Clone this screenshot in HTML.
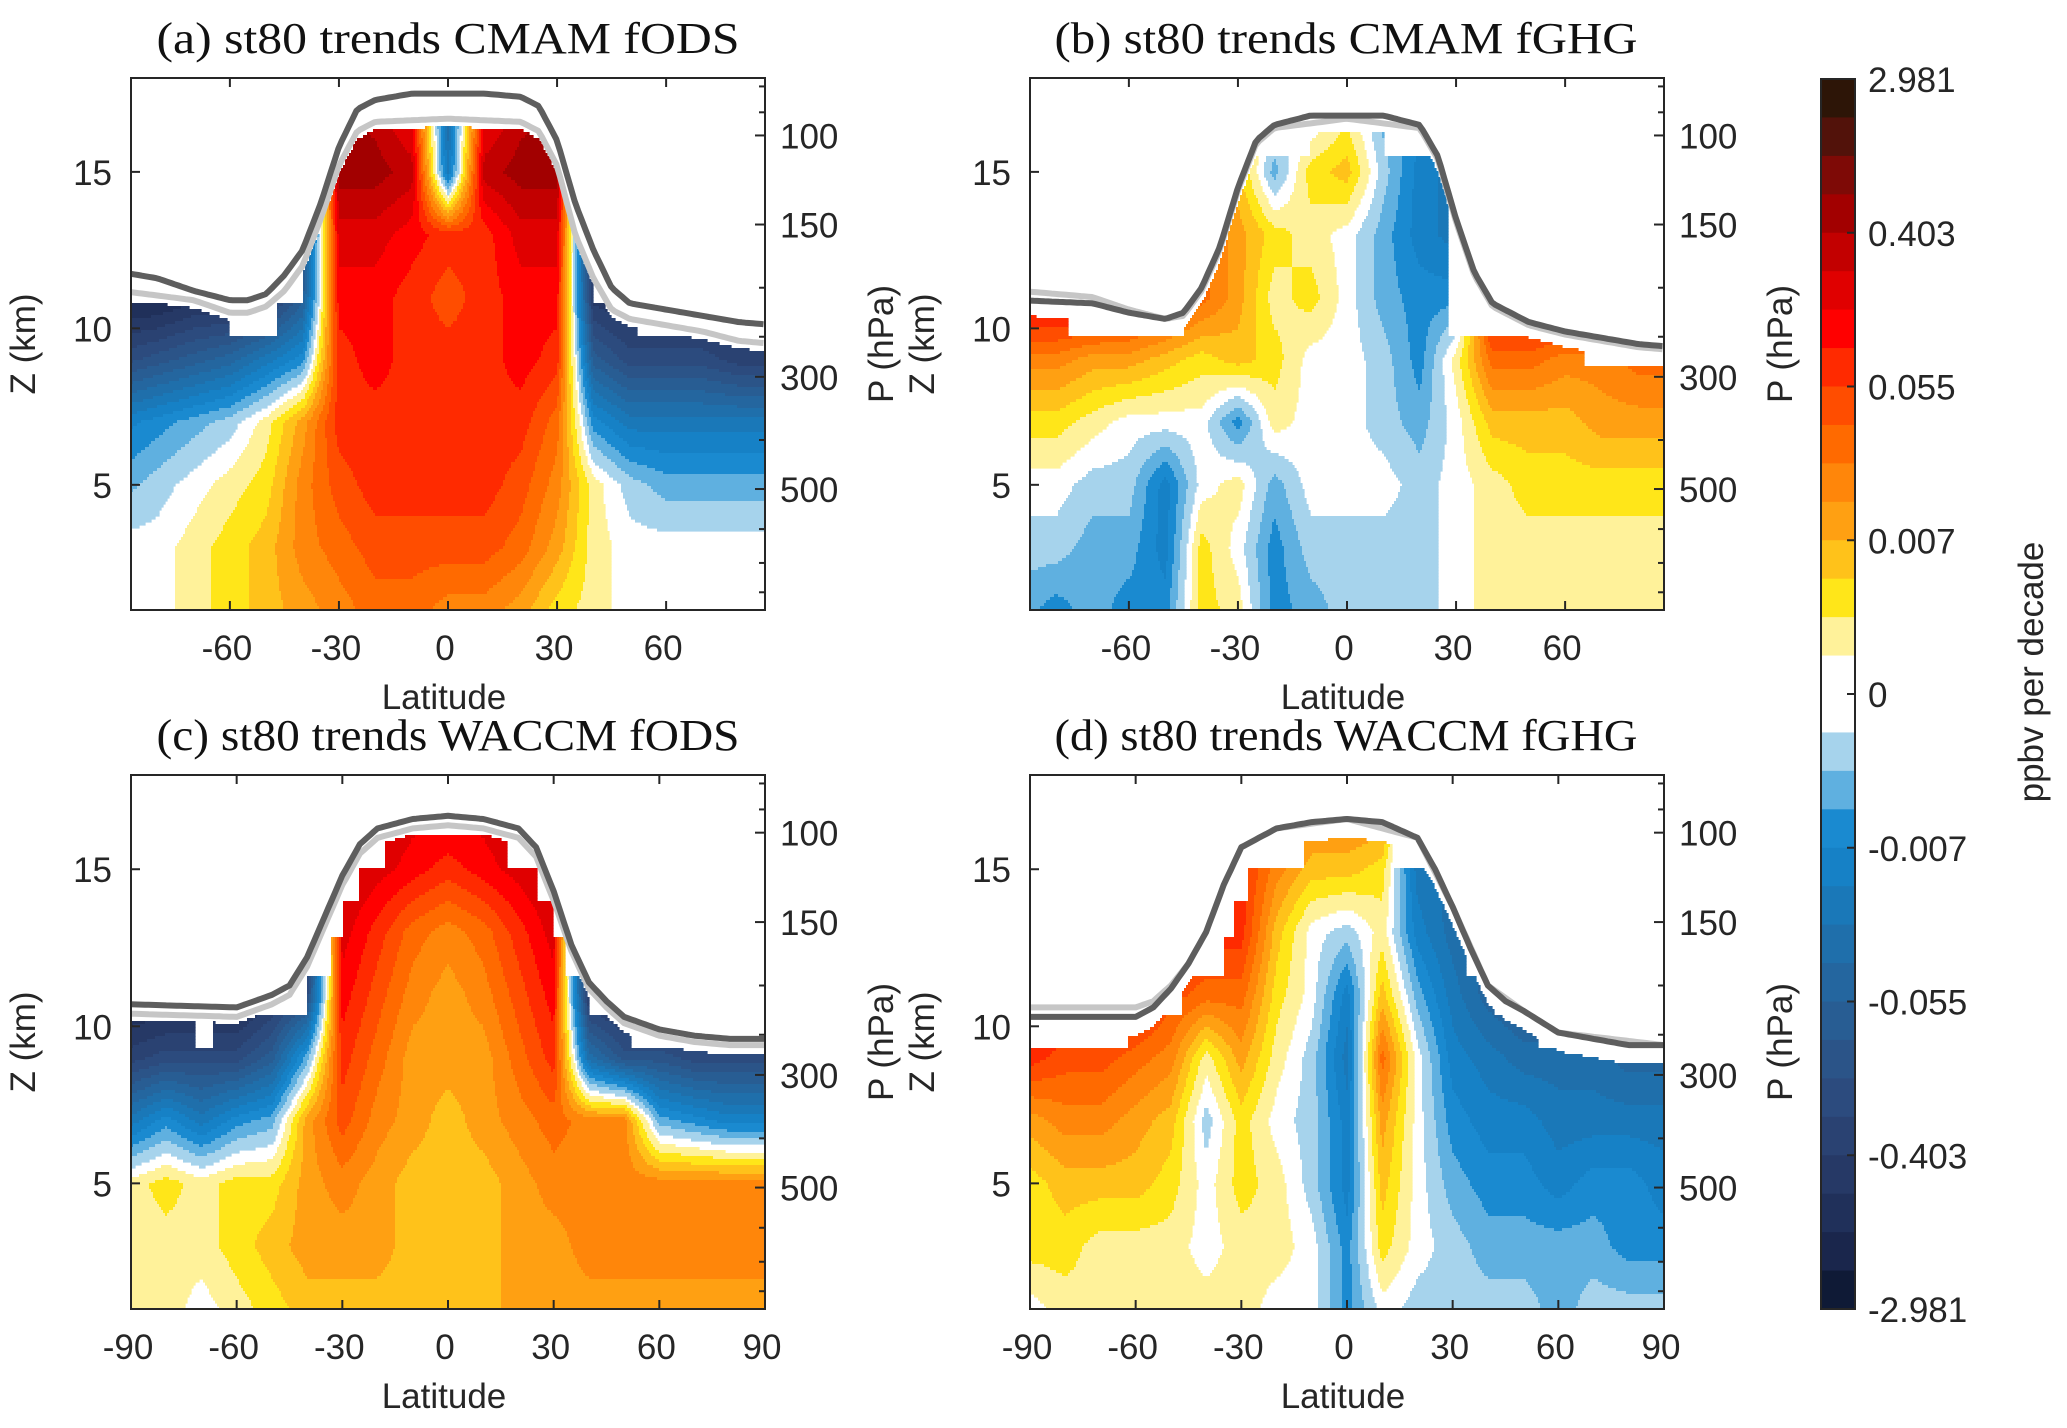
<!DOCTYPE html>
<html><head><meta charset="utf-8"><title>st80 trends</title>
<style>
html,body{margin:0;padding:0;background:#fff;}
svg{display:block;}
.tk{font-family:"Liberation Sans",sans-serif;font-size:35px;fill:#262626;}
.tt{font-family:"Liberation Serif",serif;font-size:44px;fill:#111;}
</style></head>
<body>
<svg id="fig" width="2067" height="1428" viewBox="0 0 2067 1428" xmlns="http://www.w3.org/2000/svg">
<rect x="0" y="0" width="2067" height="1428" fill="#fff"/>
</svg>
<script>
// ---- data ----
const latNodes = [-90,-80,-70,-60,-50,-40,-30,-20,-10,0,10,20,30,40,50,60,70,80,90];
const zNodes = [1,3,5,7,9,11,13,15,17];
const cbarLabels = ["2.981","0.403","0.055","0.007","0","-0.007","-0.055","-0.403","-2.981"];
const bandColorsWarm = ["#fff29a","#ffe619","#ffc21a","#ffa012","#ff860a","#ff6a00","#ff4d00","#ff2a00","#ff0000","#e00000","#c20000","#a20000","#7e0a06","#52120a","#2d1507"];
const bandColorsCool = ["#a6d3ec","#5fb0e0","#1a8ad0","#1681c6","#1a78b8","#1f6fab","#24669f","#285d93","#2b5488","#2c4b7e","#2a4272","#263966","#20305a","#1a264c","#0f1a36"];

const fieldA = [
 [0,0,1,2,3,4,5,6,6,5,5,4,2,1,0,0,0,0,0],
 [0,0,1,2,3,5,6,7,7,7,7,6,4,1,0,0,0,0,0],
 [-2,-1,0,1,2,5,7,8,8,8,8,7,5,1,-1,-2,-2,-2,-2],
 [-4,-3,-2,-1,1,4,8,8,8,8,8,8,6,-3,-5,-5,-5,-5,-5],
 [-10,-9,-8,-7,-5,-3,8,9,8,8,8,9,8,-8,-10,-10,-10,-11,-11],
 [-14,-14,-13,-13,-12,-8,9,9,8,7,8,9,9,-12,-13,-13,-13,-13,-13],
 [-14,-14,-14,-14,-13,-10,10,10,9,8,8,10,10,-13,-14,-14,-14,-14,-14],
 [-14,-14,-14,-14,-13,-12,12,12,11,-5,11,12,12,-14,-14,-14,-14,-14,-14],
 [-14,-14,-14,-14,-13,-12,12,11,9,-6,9,11,12,-14,-14,-14,-14,-14,-14]
];
const fieldB = [
 [-2,-3,-2,-3,-3,2,1,-3,-2,-1,-1,-1,0,1,1,1,1,1,1],
 [-1,-1,-2,-2,-4,2,0,-3,-1,-1,-1,-1,0,1,1,1,1,1,1],
 [0,0,-1,-1,-4,0,1,-2,0,0,0,-1,0,1,2,2,2,2,2],
 [2,2,1,0,0,0,-3,1,0,0,-1,-2,0,3,3,3,4,4,4],
 [5,5,4,4,3,2,3,2,0,0,-1,-3,1,6,6,5,5,6,6],
 [10,10,10,9,8,6,4,1,2,0,-2,-3,-3,10,10,10,10,10,10],
 [10,10,10,9,8,6,4,2,1,0,-2,-4,-5,10,10,10,10,10,10],
 [10,10,10,9,8,6,3,-2,2,3,-1,-4,-5,10,10,10,10,10,10],
 [10,10,10,9,8,6,3,0,-1,1,-2,-3,-5,10,10,10,10,10,10]
];
const fieldC = [
 [1,1,0,1,2,3,3,3,3,3,3,4,4,4,4,4,4,4,4],
 [1,1,1,2,3,4,4,4,3,3,3,4,4,5,5,5,5,5,5],
 [1,2,1,2,2,4,5,4,3,3,3,4,5,5,5,5,5,5,5],
 [-5,-3,-5,-3,-2,4,7,5,4,3,4,5,6,5,5,-2,-3,-4,-4],
 [-11,-10,-10,-10,-8,-2,8,6,4,4,4,6,8,-6,-9,-9,-10,-10,-10],
 [-14,-14,-14,-14,-12,-10,9,7,5,4,5,7,9,-12,-13,-13,-13,-13,-13],
 [-14,-14,-14,-14,-13,-12,10,8,6,5,6,8,10,-13,-14,-14,-14,-14,-14],
 [-14,-14,-14,-14,-13,-12,11,10,9,8,9,10,11,-13,-14,-14,-14,-14,-14],
 [-14,-14,-14,-14,-13,-12,12,11,10,10,10,11,12,-13,-14,-14,-14,-14,-14]
];
const fieldD = [
 [0,1,1,1,1,1,1,0,0,-3,0,-1,-1,-1,-1,-2,-1,-1,-1],
 [2,2,1,1,1,0,1,1,0,-3,2,0,-1,-2,-2,-2,-2,-3,-3],
 [2,3,3,3,2,0,2,1,-1,-4,3,0,-2,-3,-3,-4,-3,-3,-4],
 [4,5,5,4,3,-1,2,0,-1,-4,4,0,-3,-4,-4,-5,-5,-5,-5],
 [8,7,7,6,5,1,4,1,-1,-5,6,0,-4,-5,-6,-6,-6,-7,-7],
 [9,9,9,9,7,6,6,2,0,-4,3,-2,-5,-7,-8,-8,-8,-8,-8],
 [9,9,9,9,8,8,8,3,0,-1,1,-4,-6,-7,-8,-8,-8,-8,-8],
 [9,9,9,9,8,8,8,5,3,3,2,-5,-6,-7,-8,-8,-8,-8,-8],
 [9,9,9,9,8,8,8,6,5,5,5,-5,-6,-7,-8,-8,-8,-8,-8]
];
// tropopause lines [lat, z]
const tropDarkA = [[-90,11.8],[-80,11.6],[-70,11.2],[-60,10.9],[-55,10.9],[-50,11.1],[-45,11.7],[-40,12.5],[-35,14],[-30,15.8],[-25,17],[-20,17.3],[-10,17.5],[0,17.5],[10,17.5],[20,17.4],[25,17.1],[30,16],[35,14],[40,12.5],[45,11.3],[50,10.8],[60,10.6],[70,10.4],[80,10.2],[90,10.1]];
const tropLightA = [[-90,11.2],[-70,10.9],[-60,10.5],[-55,10.5],[-50,10.7],[-45,11.2],[-40,12],[-35,13.5],[-30,15.2],[-25,16.3],[-20,16.6],[0,16.7],[20,16.6],[25,16.3],[30,15.2],[35,13],[40,11.6],[45,10.6],[50,10.3],[60,10.1],[70,9.9],[80,9.6],[90,9.5]];
const tropDarkB = [[-90,10.9],[-70,10.8],[-60,10.5],[-50,10.3],[-45,10.5],[-40,11.3],[-35,12.6],[-30,14.5],[-25,16],[-20,16.5],[-10,16.8],[0,16.8],[10,16.8],[20,16.5],[25,15.5],[30,13.5],[35,11.8],[40,10.8],[50,10.2],[60,9.9],[70,9.7],[80,9.5],[90,9.4]];
const tropLightB = [[-90,11.2],[-70,11],[-60,10.6],[-50,10.3],[-45,10.4],[-40,11.2],[-35,12.5],[-30,14.4],[-25,15.9],[-20,16.4],[0,16.7],[20,16.4],[25,15.4],[30,13.4],[35,11.7],[40,10.7],[50,10.1],[60,9.8],[70,9.6],[80,9.4],[90,9.3]];
const tropDarkC = [[-90,10.7],[-60,10.6],[-50,11],[-45,11.3],[-40,12.2],[-35,13.5],[-30,14.8],[-25,15.8],[-20,16.3],[-10,16.6],[0,16.7],[10,16.6],[20,16.3],[25,15.7],[30,14.3],[35,12.6],[40,11.4],[45,10.8],[50,10.3],[60,9.9],[70,9.7],[80,9.6],[90,9.6]];
const tropLightC = [[-90,10.4],[-60,10.3],[-50,10.7],[-45,11],[-40,11.9],[-35,13.2],[-30,14.5],[-25,15.5],[-20,16],[-10,16.3],[0,16.4],[10,16.3],[20,16],[25,15.4],[30,14],[35,12.4],[40,11.2],[45,10.6],[50,10.1],[60,9.7],[70,9.5],[80,9.4],[90,9.4]];
const tropDarkD = [[-90,10.3],[-60,10.3],[-55,10.6],[-50,11.2],[-45,12],[-40,13],[-35,14.5],[-30,15.7],[-20,16.3],[-10,16.5],[0,16.6],[10,16.5],[20,16],[25,15],[30,13.8],[35,12.5],[40,11.3],[45,10.8],[50,10.5],[60,9.8],[70,9.6],[80,9.4],[90,9.4]];
const tropLightD = [[-90,10.6],[-60,10.6],[-55,10.8],[-50,11.3],[-45,12],[-40,13],[-35,14.5],[-30,15.7],[-20,16.3],[0,16.6],[20,16],[30,13.8],[40,11.3],[50,10.5],[60,9.8],[90,9.4]];
// data top (model-level steps): edges & heights
const topEdgesA = [-90,-60,-47,-40,40,52,90];
const topZA = [10.8,9.8,10.8,16.7,10.8,9.8];
const topEdgesB = [-90,-77,-45,-10,10,28,65,90];
const topZB = [10.8,9.8,15.5,16.6,15.5,9.8,8.8];
const topEdgesC = [-90,-72,-67,-40,-33,-30,-25,-18,17,25,30,33,40,52,90];
const topZC = [10.4,9.3,10.4,11.6,12.8,14,15,16.1,15,14,12.8,11.6,10.4,9.3];
const topEdgesD = [-90,-62,-47,-35,-32,-28,-12,13,27,31,34,42,54,90];
const topZD = [9.3,10.4,11.6,12.8,14,15,16.2,15,14,12.8,11.6,10.4,9.3];
const pLabels = [100,150,300,500];
const pMinor = [70,80,90,200,250,400,600,700,800];

// ---- layout ----
const NS = "http://www.w3.org/2000/svg";
const svg = document.getElementById('fig');
function mk(tag, attrs, parent){ const e=document.createElementNS(NS,tag); for(const k in attrs) e.setAttribute(k,attrs[k]); (parent||svg).appendChild(e); return e; }

const panels = [
 {id:'a', title:'(a) st80 trends CMAM fODS', tx:448, x0:131,x1:765,y0:78,y1:610, latMin:-87.2,latMax:87.2, field:fieldA, dark:tropDarkA, light:tropLightA, tE:topEdgesA, tZ:topZA, clipLine:'light', off:0.25, xt:[-60,-30,0,30,60]},
 {id:'b', title:'(b) st80 trends CMAM fGHG', tx:1346, x0:1030,x1:1664,y0:78,y1:610, latMin:-87.2,latMax:87.2, field:fieldB, dark:tropDarkB, light:tropLightB, tE:topEdgesB, tZ:topZB, clipLine:'dark', off:0.5, xt:[-60,-30,0,30,60]},
 {id:'c', title:'(c) st80 trends WACCM fODS', tx:448, x0:131,x1:765,y0:775,y1:1309, latMin:-90,latMax:90, field:fieldC, dark:tropDarkC, light:tropLightC, tE:topEdgesC, tZ:topZC, clipLine:'dark', off:0.5, xt:[-90,-60,-30,0,30,60,90]},
 {id:'d', title:'(d) st80 trends WACCM fGHG', tx:1346, x0:1030,x1:1664,y0:775,y1:1309, latMin:-90,latMax:90, field:fieldD, dark:tropDarkD, light:tropLightD, tE:topEdgesD, tZ:topZD, clipLine:'dark', off:0.6, xt:[-90,-60,-30,0,30,60,90]}
];
const xS = (p,lat)=> p.x0 + (lat-p.latMin)/(p.latMax-p.latMin)*(p.x1-p.x0);
const yS = (p,z)=> p.y1 - (z-1)/17*(p.y1-p.y0);
const latInv = (p,x)=> p.latMin + (x-p.x0)/(p.x1-p.x0)*(p.latMax-p.latMin);
const zInv = (p,y)=> 1 + (p.y1-y)/(p.y1-p.y0)*17;
const pToZ = pr => 7.02*Math.log(1000/pr);

function lineAt(arr, lat){
  if(lat<=arr[0][0]) return arr[0][1];
  for(let i=1;i<arr.length;i++){ if(lat<=arr[i][0]){ const t=(lat-arr[i-1][0])/(arr[i][0]-arr[i-1][0]); return arr[i-1][1]+t*(arr[i][1]-arr[i-1][1]); } }
  return arr[arr.length-1][1];
}
function topAt(p, lat){ for(let i=0;i<p.tZ.length;i++){ if(lat<=p.tE[i+1]) return p.tZ[i]; } return p.tZ[p.tZ.length-1]; }
function fieldAt(f, lat, z){
  let fi=(lat-latNodes[0])/10; fi=Math.max(0,Math.min(latNodes.length-1.0001,fi));
  let fj=(z-zNodes[0])/2; fj=Math.max(0,Math.min(zNodes.length-1.0001,fj));
  const i=Math.floor(fi), j=Math.floor(fj), u=fi-i, v=fj-j;
  return (1-u)*(1-v)*f[j][i] + u*(1-v)*f[j][i+1] + (1-u)*v*f[j+1][i] + u*v*f[j+1][i+1];
}
function bandColor(v){
  const l=Math.round(v);
  if(l===0) return null;
  if(l>0) return bandColorsWarm[Math.min(15,l)-1];
  return bandColorsCool[Math.min(15,-l)-1];
}

panels.forEach(p=>{
  const g = mk('g',{});
  
  
  const cp = mk('clipPath',{id:'clip-'+p.id}, g);
  mk('rect',{x:p.x0,y:p.y0,width:p.x1-p.x0,height:p.y1-p.y0},cp);
  const fill = mk('g',{'clip-path':'url(#clip-'+p.id+')'}, g);
  
  
  const dx=2, dy=3;
  const cl = p.clipLine==='light'?p.light:p.dark;
  for(let y=p.y0;y<p.y1;y+=dy){
    const z=zInv(p,y+dy/2);
    let runStart=null, runCol=null;
    const flush=(xe)=>{ if(runCol){ const r=mk('rect',{x:runStart,y:y,width:xe-runStart+0.6,height:dy+0.6,fill:runCol},fill);   } };
    for(let x=p.x0;x<p.x1;x+=dx){
      const lat=latInv(p,x+dx/2);
      const lim=Math.min(topAt(p,lat), lineAt(cl,lat)-p.off);
      const col = z>lim ? null : bandColor(fieldAt(p.field,lat,z));
      if(col!==runCol){ flush(x); runStart=x; runCol=col; }
    }
    flush(p.x1);
  }
  // tropopause lines
  [['light','#c6c6c6'],['dark','#5e5e5e']].forEach(([k,c])=>{
    const arr=p[k]; let d='';
    for(let lat=p.latMin; lat<=p.latMax+0.01; lat+=1){ d+=(d?'L':'M')+xS(p,lat).toFixed(1)+','+yS(p,lineAt(arr,lat)).toFixed(1); }
    const pl=mk('path',{d:d,fill:'none',stroke:c,'stroke-width':6,'stroke-linejoin':'round','clip-path':'url(#clip-'+p.id+')'},g);
    
    
  });
  // frame
  const fr=mk('rect',{x:p.x0,y:p.y0,width:p.x1-p.x0,height:p.y1-p.y0,fill:'none',stroke:'#262626','stroke-width':2},g);
  
  
  // x ticks
  p.xt.forEach(lat=>{
    const x=xS(p,lat);
    mk('line',{x1:x,x2:x,y1:p.y1,y2:p.y1-9,stroke:'#262626','stroke-width':2},g);
    mk('line',{x1:x,x2:x,y1:p.y0,y2:p.y0+9,stroke:'#262626','stroke-width':2},g);
    const t=mk('text',{x:x-3,y:p.y1+50,'text-anchor':'middle',class:'tk'},g); t.textContent=String(lat);
    
    
  });
  const xl=mk('text',{x:(p.x0+p.x1)/2-4,y:p.y1+99,'text-anchor':'middle',class:'tk'},g); xl.textContent='Latitude';
  
  
  // left z ticks
  [5,10,15].forEach(z=>{
    const y=yS(p,z);
    mk('line',{x1:p.x0,x2:p.x0+9,y1:y,y2:y,stroke:'#262626','stroke-width':2},g);
    const t=mk('text',{x:p.x0-19,y:y+13,'text-anchor':'end',class:'tk'},g); t.textContent=String(z);
    
    
  });
  const lx = p.x0-96;
  const lt=mk('text',{x:lx,y:(p.y0+p.y1)/2,'text-anchor':'middle',class:'tk',transform:'rotate(-90 '+lx+' '+(p.y0+p.y1)/2+')'},g); lt.textContent='Z (km)';
  
  
  // right pressure ticks
  pMinor.forEach(pr=>{ const y=yS(p,pToZ(pr)); if(y>p.y0&&y<p.y1) mk('line',{x1:p.x1,x2:p.x1-6,y1:y,y2:y,stroke:'#262626','stroke-width':2},g); });
  pLabels.forEach(pr=>{
    const y=yS(p,pToZ(pr));
    mk('line',{x1:p.x1,x2:p.x1-10,y1:y,y2:y,stroke:'#262626','stroke-width':2},g);
    const t=mk('text',{x:p.x1+15,y:y+13,class:'tk'},g); t.textContent=String(pr);
    
    
  });
  const rx = p.x1+128;
  const rt=mk('text',{x:rx,y:(p.y0+p.y1)/2,'text-anchor':'middle',class:'tk',transform:'rotate(-90 '+rx+' '+(p.y0+p.y1)/2+')'},g); rt.textContent='P (hPa)';
  
  
  const tt=mk('text',{x:p.tx,y:p.y0-25,'text-anchor':'middle',class:'tt',textLength:583,lengthAdjust:'spacingAndGlyphs'},g); tt.textContent=p.title;
  
  
});

// ---- colorbar ----
const cb = mk('g',{});


const cbX=1821, cbW=34, cbY0=79, cbY1=1309;
const nb=32, bh=(cbY1-cbY0)/nb;
for(let k=0;k<nb;k++){
  let col;
  if(k<15) col=bandColorsWarm[14-k];
  else if(k<17) col='#ffffff';
  else col=bandColorsCool[k-17];
  const r=mk('rect',{x:cbX,y:cbY0+k*bh,width:cbW,height:bh+0.5,fill:col},cb);
  
  
}
mk('rect',{x:cbX,y:cbY0,width:cbW,height:cbY1-cbY0,fill:'none',stroke:'#262626','stroke-width':2},cb);
cbarLabels.forEach((s,i)=>{
  const y=cbY0+i*(cbY1-cbY0)/(cbarLabels.length-1);
  mk('line',{x1:cbX+cbW,x2:cbX+cbW-8,y1:y,y2:y,stroke:'#262626','stroke-width':2},cb);
  const t=mk('text',{x:1868,y:y+13,class:'tk'},cb); t.textContent=s;
  
  
});
const ct=mk('text',{x:2043,y:672,'text-anchor':'middle',class:'tk',transform:'rotate(-90 2043 672)'},cb); ct.textContent='ppbv per decade';


</script>
</body></html>
